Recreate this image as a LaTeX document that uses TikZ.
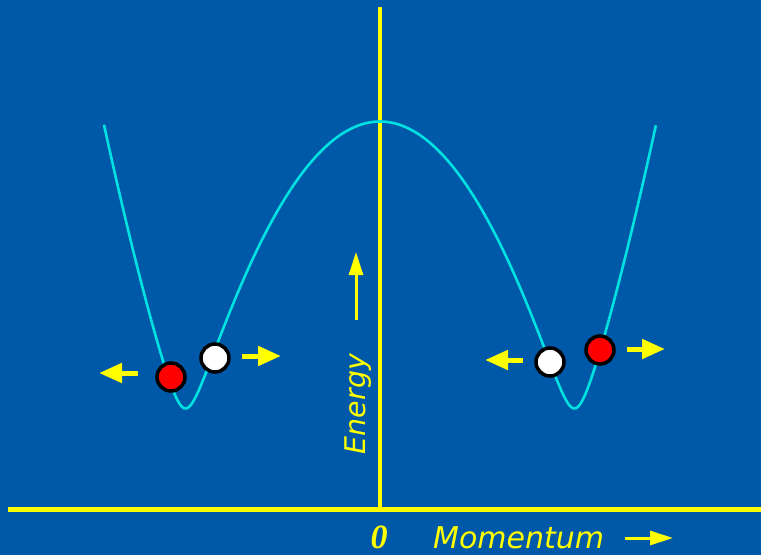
\documentclass[tikz,border=0pt]{standalone}
\usepackage{fontspec}
\newfontfamily\labelfont{DejaVu Sans}
\newfontfamily\zerofont{Liberation Serif}
\usetikzlibrary{arrows.meta}
\definecolor{bg}{RGB}{0,88,168}
\definecolor{axisyellow}{RGB}{255,255,0}
\definecolor{curvecyan}{RGB}{0,225,225}
\begin{document}
\begin{tikzpicture}[x=1pt,y=-1pt,
  ball/.style={circle, draw=black, line width=3.5pt, minimum size=28pt, inner sep=0pt},
  motion/.style={draw=axisyellow, line width=5pt, -{Triangle[length=23pt,width=19pt]}},
  axisarrow/.style={draw=axisyellow, line width=3pt, -{Triangle[length=23pt,width=14pt]}},
  axisline/.style={draw=axisyellow, line width=5pt},
  lbl/.style={text=axisyellow, inner sep=0pt}]
\fill[bg] (0,0) rectangle (761,555);
\useasboundingbox (0,0) rectangle (761,555);
% axes
\coordinate (xl) at (8,509);
\coordinate (xr) at (761,509);
\coordinate (yt) at (380,7);
\coordinate (yb) at (380,509);
\draw[axisline] (xl) -- (xr);
\draw[axisline, line width=4pt] (yt) -- (yb);
% band curve
\draw[curvecyan, line width=2.6pt, line join=round]
  plot[domain=-2.76:2.76, samples=241]
  ({380+100*\x}, {407-100*(-0.37-0.012*\x*\x+sqrt((3.20-0.848*\x*\x)^2+0.16))});
% labels
\node[lbl, anchor=base, font=\zerofont\bfseries\itshape\fontsize{34}{34}\selectfont] (zero) at (379,548) {0};
\node[lbl, anchor=base west, font=\labelfont\itshape\fontsize{30}{30}\selectfont] (mom) at (433,548) {Momentum};
\node[lbl, rotate=90, anchor=base, font=\labelfont\itshape\fontsize{28.5}{28.5}\selectfont] (energy) at (365,404) {Energy};
% axis arrows
\coordinate (ea0) at (356,320);
\coordinate (ea1) at (356,252);
\draw[axisarrow] (ea0) -- (ea1);
\coordinate (ma0) at (625,538);
\coordinate (ma1) at (673,538);
\draw[axisarrow] (ma0) -- (ma1);
% balls
\node[ball, fill=red] (redL) at (171,377) {};
\node[ball, fill=white] (whiteL) at (215,358) {};
\node[ball, fill=white] (whiteR) at (550,362) {};
\node[ball, fill=red] (redR) at (600,350) {};
% motion arrows
\coordinate (a1s) at (138,373); \coordinate (a1e) at (99,373);
\coordinate (a2s) at (242,356); \coordinate (a2e) at (281,356);
\coordinate (a3s) at (523,360); \coordinate (a3e) at (485,360);
\coordinate (a4s) at (627,349); \coordinate (a4e) at (665,349);
\draw[motion] (a1s) -- (a1e);
\draw[motion] (a2s) -- (a2e);
\draw[motion] (a3s) -- (a3e);
\draw[motion] (a4s) -- (a4e);
\end{tikzpicture}
\end{document}
